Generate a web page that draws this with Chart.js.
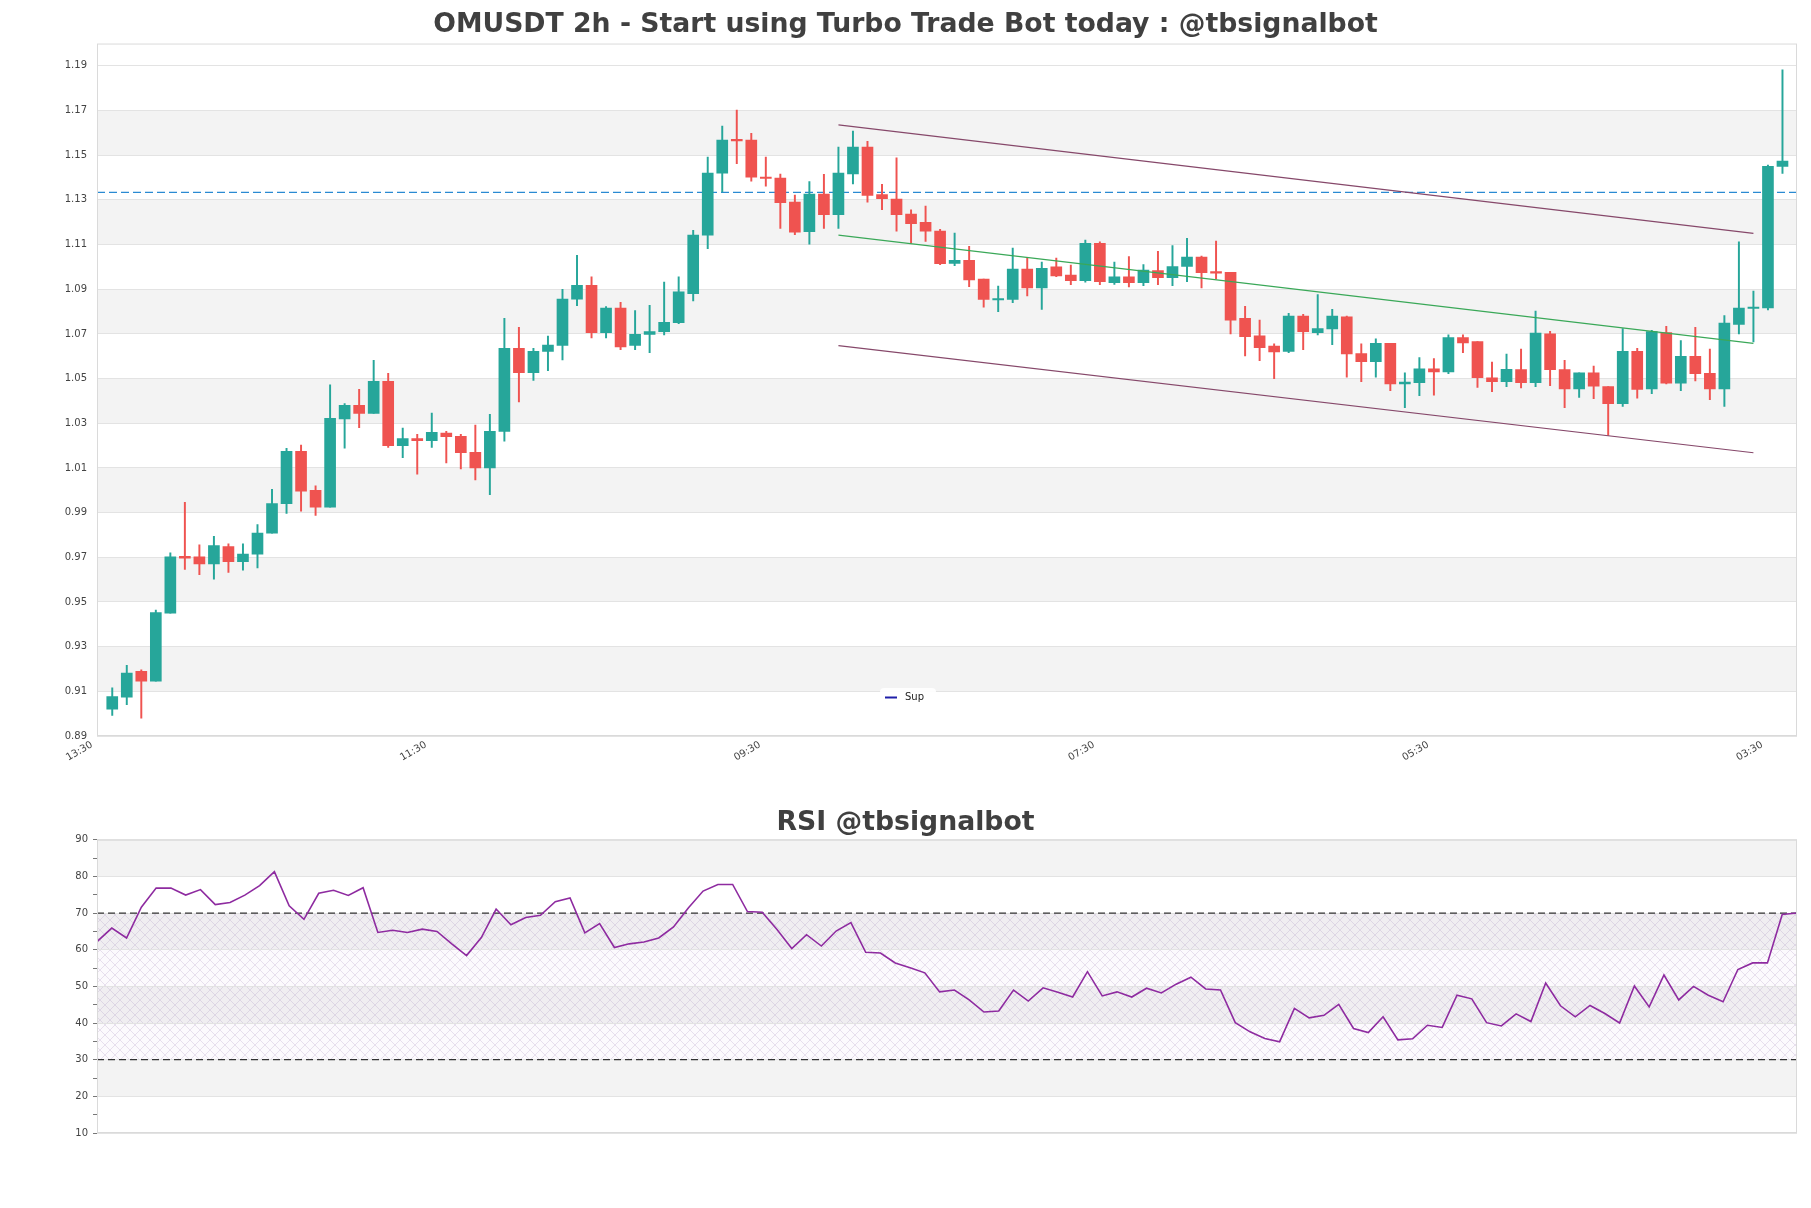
<!DOCTYPE html>
<html><head><meta charset="utf-8">
<script src="https://cdn.jsdelivr.net/npm/chart.js@4.4.1/dist/chart.umd.min.js"></script>
<style>
html,body{margin:0;padding:0;background:#fff;}
#wrap{position:relative;width:1811px;height:1208px;background:#fff;}
#c1{position:absolute;left:0;top:0;}
#c2{position:absolute;left:0;top:790px;}
</style></head><body>
<div id="wrap"><canvas id="c1" width="1811" height="790"></canvas><canvas id="c2" width="1811" height="418"></canvas></div>
<script>
// ---- data ----
const opens = [0.9020,0.9074,0.9190,0.9146,0.9450,0.9704,0.9702,0.9670,0.9748,0.9680,
0.9714,0.9808,0.9940,1.0174,1.0000,0.9924,1.0320,1.0380,1.0344,1.0488,
1.0200,1.0232,1.0222,1.0256,1.0242,1.0170,1.0100,1.0264,1.0636,1.0526,
1.0622,1.0648,1.0856,1.0918,1.0706,1.0816,1.0648,1.0698,1.0710,1.0750,
1.0880,1.1142,1.1420,1.1568,1.1568,1.1402,1.1398,1.1290,1.1158,1.1326,
1.1234,1.1416,1.1536,1.1324,1.1304,1.1236,1.1200,1.1160,1.1016,1.1030,
1.0946,1.0852,1.0854,1.0990,1.0906,1.1000,1.0964,1.0938,1.1106,1.0930,
1.0956,1.0930,1.0984,1.0952,1.1002,1.1044,1.0976,1.0976,1.0770,1.0692,
1.0646,1.0622,1.0780,1.0706,1.0722,1.0776,1.0612,1.0576,1.0658,1.0476,
1.0482,1.0544,1.0530,1.0684,1.0666,1.0504,1.0486,1.0540,1.0482,1.0700,
1.0540,1.0454,1.0526,1.0464,1.0388,1.0622,1.0454,1.0706,1.0480,1.0600,
1.0524,1.0454,1.0742,1.0814,1.0816,1.1450];
const highs = [0.9116,0.9216,0.9196,0.9464,0.9720,0.9946,0.9756,0.9794,0.9760,0.9760,
0.9846,1.0004,1.0188,1.0202,1.0020,1.0472,1.0388,1.0452,1.0582,1.0524,
1.0278,1.0250,1.0346,1.0264,1.0250,1.0292,1.0340,1.0770,1.0730,1.0636,
1.0690,1.0900,1.1052,1.0956,1.0822,1.0842,1.0804,1.0828,1.0932,1.0956,
1.1164,1.1492,1.1630,1.1702,1.1598,1.1492,1.1416,1.1322,1.1382,1.1414,
1.1536,1.1608,1.1562,1.1370,1.1488,1.1256,1.1272,1.1168,1.1152,1.1092,
1.0946,1.0914,1.1084,1.1040,1.1022,1.1040,1.1008,1.1120,1.1112,1.1022,
1.1046,1.1010,1.1070,1.1096,1.1128,1.1048,1.1116,1.0976,1.0824,1.0762,
1.0656,1.0792,1.0788,1.0876,1.0810,1.0780,1.0656,1.0678,1.0658,1.0526,
1.0594,1.0590,1.0696,1.0696,1.0666,1.0574,1.0610,1.0632,1.0802,1.0712,
1.0582,1.0526,1.0556,1.0464,1.0724,1.0636,1.0716,1.0734,1.0670,1.0730,
1.0632,1.0782,1.1112,1.0892,1.1456,1.1882];
const lows = [0.8992,0.9040,0.8980,0.9146,0.9450,0.9646,0.9622,0.9602,0.9632,0.9642,
0.9652,0.9808,0.9896,0.9906,0.9888,0.9924,1.0188,1.0280,1.0344,1.0192,
1.0146,1.0072,1.0192,1.0122,1.0096,1.0046,0.9980,1.0220,1.0396,1.0492,
1.0536,1.0584,1.0826,1.0682,1.0682,1.0630,1.0630,1.0616,1.0696,1.0746,
1.0848,1.1082,1.1336,1.1462,1.1384,1.1362,1.1172,1.1144,1.1102,1.1172,
1.1172,1.1372,1.1290,1.1256,1.1160,1.1106,1.1114,1.1010,1.1006,1.0912,
1.0820,1.0800,1.0840,1.0870,1.0810,1.0956,1.0920,1.0932,1.0920,1.0922,
1.0910,1.0916,1.0920,1.0916,1.0934,1.0906,1.0946,1.0700,1.0602,1.0580,
1.0500,1.0616,1.0630,1.0696,1.0652,1.0506,1.0486,1.0506,1.0446,1.0370,
1.0424,1.0426,1.0522,1.0616,1.0460,1.0442,1.0464,1.0458,1.0464,1.0468,
1.0370,1.0416,1.0410,1.0246,1.0376,1.0412,1.0432,1.0476,1.0446,1.0490,
1.0406,1.0376,1.0700,1.0664,1.0808,1.1418];
const closes = [0.9076,0.9182,0.9146,0.9452,0.9702,0.9696,0.9670,0.9752,0.9680,0.9714,
0.9808,0.9940,1.0174,0.9996,0.9924,1.0322,1.0380,1.0344,1.0488,1.0200,
1.0232,1.0222,1.0260,1.0240,1.0168,1.0100,1.0264,1.0636,1.0526,1.0622,
1.0650,1.0856,1.0918,1.0706,1.0816,1.0642,1.0698,1.0710,1.0752,1.0888,
1.1142,1.1420,1.1568,1.1564,1.1402,1.1396,1.1288,1.1156,1.1326,1.1234,
1.1420,1.1536,1.1320,1.1306,1.1234,1.1194,1.1160,1.1014,1.1030,1.0942,
1.0854,1.0858,1.0990,1.0906,1.0994,1.0960,1.0938,1.1106,1.0934,1.0956,
1.0930,1.0986,1.0952,1.1002,1.1044,1.0974,1.0972,1.0762,1.0688,1.0638,
1.0620,1.0780,1.0710,1.0724,1.0780,1.0610,1.0576,1.0658,1.0476,1.0484,
1.0544,1.0530,1.0684,1.0660,1.0504,1.0486,1.0542,1.0482,1.0704,1.0540,
1.0454,1.0526,1.0466,1.0388,1.0622,1.0452,1.0710,1.0480,1.0600,1.0522,
1.0454,1.0748,1.0816,1.0820,1.1450,1.1474];
const rsiValues = [62.2,65.9,63.2,71.6,76.8,76.8,74.9,76.4,72.3,72.9,
74.9,77.5,81.3,72.0,68.3,75.4,76.2,74.8,76.9,64.7,
65.3,64.7,65.6,65.0,61.6,58.4,63.3,71.1,66.8,68.8,
69.4,73.1,74.1,64.6,67.1,60.6,61.6,62.1,63.2,66.2,
71.4,76.0,77.8,77.8,70.4,70.2,65.5,60.3,64.1,61.0,
65.1,67.4,59.3,59.1,56.4,55.1,53.7,48.5,49.0,46.3,
43.0,43.3,49.0,46.0,49.6,48.4,47.1,54.0,47.4,48.5,
47.1,49.5,48.2,50.6,52.5,49.3,49.0,40.1,37.6,35.8,
34.9,44.0,41.4,42.1,45.1,38.5,37.4,41.7,35.4,35.7,
39.4,38.8,47.6,46.6,40.1,39.2,42.5,40.4,50.9,44.7,
41.7,44.8,42.6,40.0,50.1,44.4,53.1,46.3,50.0,47.6,
45.8,54.6,56.4,56.4,69.6,70.0];
const priceTicks = [0.89,0.91,0.93,0.95,0.97,0.99,1.01,1.03,1.05,1.07,1.09,1.11,1.13,1.15,1.17,1.19];
const priceMin = 0.89, priceMax = 1.20;
const timeTickIdx = [-1.4, 21.6, 44.6, 67.6, 90.6, 113.6];
const timeTickLabels = ['13:30','11:30','09:30','07:30','05:30','03:30'];
const rsiTicks = [10,15,20,25,30,35,40,45,50,55,60,65,70,75,80,85,90];
const supLevel = 1.1334;
const channelUpper = [[50,1.1636],[113,1.1150]];
const channelMid = [[50,1.1142],[113,1.0658]];
const channelLower = [[50,1.0648],[113,1.0168]];
const rsiHigh = 70, rsiLow = 30;
const titleMain = 'OMUSDT 2h - Start using Turbo Trade Bot today : @tbsignalbot';
const titleRsi = 'RSI @tbsignalbot';
const legendLabel = 'Sup';

// ---- styles ----
const UP = '#26a69a', DOWN = '#ef5350';
const FONT = 'DejaVu Sans';
const GRID = '#e3e3e3', BAND = '#f3f3f3', FRAME = '#dadada', TXT = '#444444';
Chart.defaults.font.family = FONT;

const colors = opens.map((o,i)=> closes[i] >= o ? UP : DOWN);
const bodies = opens.map((o,i)=>({x:i, y:[o, closes[i]]}));
const wicks = lows.map((l,i)=>({x:i, y:[l, highs[i]]}));
const seg = s => s.map(p=>({x:p[0], y:p[1]}));

function bandsFor(ticks){ const out=[]; for(let i=1;i+1<ticks.length;i+=2) out.push([ticks[i],ticks[i+1]]); return out; }

// invisible right spacer axis so the title centres on the full page width
const spacerAxis = {type:'linear', position:'right', display:true, grid:{display:false}, border:{display:false},
  ticks:{display:false}, afterFit:s=>{ s.width = 14; }};

const mainPlugin = {
  id:'mainDecor',
  beforeDraw(chart){
    const {ctx, chartArea:a, scales:{y}} = chart;
    ctx.save();
    ctx.fillStyle = BAND;
    bandsFor(priceTicks).forEach(([lo,hi])=>{
      const t = y.getPixelForValue(hi), b = y.getPixelForValue(lo);
      ctx.fillRect(a.left, t, a.right-a.left, b-t);
    });
    ctx.restore();
  },
  beforeDatasetsDraw(chart){
    const {ctx, chartArea:a, scales:{y}} = chart;
    const py = y.getPixelForValue(supLevel);
    ctx.save();
    ctx.strokeStyle = '#2a8ad2'; ctx.lineWidth = 1.2; ctx.setLineDash([8,4]);
    ctx.beginPath(); ctx.moveTo(a.left, py); ctx.lineTo(a.right, py); ctx.stroke();
    ctx.restore();
  },
  afterDraw(chart){
    const {ctx, chartArea:a} = chart;
    ctx.save();
    ctx.strokeStyle = FRAME; ctx.lineWidth = 1;
    ctx.strokeRect(a.left+0.5, a.top+0.5, a.right-a.left-1, a.bottom-a.top-1);
    const bx = 880, by = 688, bw = 56, bh = 18;
    ctx.fillStyle = 'rgba(255,255,255,0.9)';
    ctx.beginPath(); ctx.roundRect(bx, by, bw, bh, 4); ctx.fill();
    ctx.strokeStyle = '#1f1fa8'; ctx.lineWidth = 2;
    ctx.beginPath(); ctx.moveTo(bx+5, by+9.5); ctx.lineTo(bx+17, by+9.5); ctx.stroke();
    ctx.fillStyle = '#222'; ctx.font = '10px "DejaVu Sans"'; ctx.textBaseline = 'middle';
    ctx.fillText(legendLabel, bx+25, by+9);
    ctx.restore();
  }
};

new Chart(document.getElementById('c1'), {
  type:'bar',
  data:{datasets:[
    {type:'line', data:seg(channelUpper), borderColor:'#86486a', borderWidth:1.2, pointRadius:0, order:1},
    {type:'line', data:seg(channelMid), borderColor:'#3aa858', borderWidth:1.2, pointRadius:0, order:1},
    {type:'line', data:seg(channelLower), borderColor:'#86486a', borderWidth:1.2, pointRadius:0, order:1},
    {type:'bar', data:bodies, backgroundColor:colors, barThickness:11, grouped:false, minBarLength:1.5, order:2},
    {type:'bar', data:wicks, backgroundColor:colors, barThickness:1.3, grouped:false, order:3}
  ]},
  options:{
    responsive:false, animation:false, devicePixelRatio:1,
    layout:{padding:{left:0, right:0, top:0, bottom:0}},
    plugins:{
      legend:{display:false}, tooltip:{enabled:false},
      title:{display:true, text:titleMain, color:'#404040', font:{family:FONT, size:26.7, weight:'bold'}, padding:{top:8.9, bottom:2.6}}
    },
    scales:{
      x:{type:'linear', min:-1.05, max:116.0, offset:false,
         grid:{display:false}, border:{display:false},
         afterBuildTicks:s=>{ s.ticks = timeTickIdx.map(v=>({value:v})); },
         ticks:{autoSkip:false, maxRotation:30, minRotation:30, color:TXT, font:{family:FONT, size:10}, padding:-5,
                callback:(v,i)=>timeTickLabels[i]},
         afterFit:s=>{ s.height = 54; }},
      y:{type:'linear', min:priceMin, max:priceMax,
         afterBuildTicks:s=>{ s.ticks = priceTicks.map(v=>({value:v})); },
         grid:{color:GRID, drawTicks:false}, border:{display:false},
         ticks:{autoSkip:false, color:TXT, font:{family:FONT, size:10}, padding:10, callback:v=>Number(v).toFixed(2)},
         afterFit:s=>{ s.width = 97; }},
      yR: spacerAxis
    }
  },
  plugins:[mainPlugin]
});

// ---- RSI ----
function makeHatch(ctx){
  const p = document.createElement('canvas'); p.width = 10; p.height = 10;
  const g = p.getContext('2d');
  g.strokeStyle = 'rgba(160,135,185,0.34)'; g.lineWidth = 0.7;
  g.beginPath(); g.moveTo(0,0); g.lineTo(10,10); g.moveTo(10,0); g.lineTo(0,10); g.stroke();
  return ctx.createPattern(p,'repeat');
}
const rsiMajor = rsiTicks.filter(v=>v%10===0);
const rsiPlugin = {
  id:'rsiDecor',
  beforeDraw(chart){
    const {ctx, chartArea:a, scales:{y}} = chart;
    ctx.save();
    ctx.fillStyle = BAND;
    [[20,30],[40,50],[60,70],[80,90]].forEach(([lo,hi])=>{
      const t = y.getPixelForValue(hi), b = y.getPixelForValue(lo);
      ctx.fillRect(a.left, t, a.right-a.left, b-t);
    });
    const t = y.getPixelForValue(rsiHigh), b = y.getPixelForValue(rsiLow);
    ctx.fillStyle = 'rgba(200,170,220,0.06)';
    ctx.fillRect(a.left, t, a.right-a.left, b-t);
    ctx.fillStyle = makeHatch(ctx);
    ctx.fillRect(a.left, t, a.right-a.left, b-t);
    ctx.restore();
  },
  beforeDatasetsDraw(chart){
    const {ctx, chartArea:a, scales:{y}} = chart;
    ctx.save();
    ctx.strokeStyle = '#333'; ctx.lineWidth = 1.3; ctx.setLineDash([7,4]);
    [rsiHigh, rsiLow].forEach(v=>{
      const py = y.getPixelForValue(v);
      ctx.beginPath(); ctx.moveTo(a.left, py); ctx.lineTo(a.right, py); ctx.stroke();
    });
    ctx.restore();
  },
  afterDraw(chart){
    const {ctx, chartArea:a} = chart;
    ctx.save();
    ctx.strokeStyle = FRAME; ctx.lineWidth = 1;
    ctx.strokeRect(a.left+0.5, a.top+0.5, a.right-a.left-1, a.bottom-a.top-1);
    ctx.restore();
  }
};

new Chart(document.getElementById('c2'), {
  type:'line',
  data:{datasets:[{data:rsiValues.map((v,i)=>({x:i,y:v})), borderColor:'#8e2ba0', borderWidth:1.6, pointRadius:0, tension:0}]},
  options:{
    responsive:false, animation:false, devicePixelRatio:1,
    layout:{padding:{left:0, right:0, top:0, bottom:75}},
    plugins:{
      legend:{display:false}, tooltip:{enabled:false},
      title:{display:true, text:titleRsi, color:'#404040', font:{family:FONT, size:26.7, weight:'bold'}, padding:{top:16.6, bottom:1.1}}
    },
    scales:{
      x:{type:'linear', min:0, max:rsiValues.length-1, display:false},
      y:{type:'linear', min:10, max:90,
         afterBuildTicks:s=>{ s.ticks = rsiTicks.map(v=>({value:v})); },
         grid:{color:c=> (c.tick && c.tick.value%10===0) ? GRID : 'rgba(0,0,0,0)', tickColor:'#777', tickLength:4, drawTicks:true},
         border:{display:false},
         ticks:{autoSkip:false, color:TXT, font:{family:FONT, size:10}, padding:5,
                callback:v=> rsiMajor.includes(v) ? String(v) : ''},
         afterFit:s=>{ s.width = 97; }},
      yR: spacerAxis
    }
  },
  plugins:[rsiPlugin]
});
</script>
</body></html>
